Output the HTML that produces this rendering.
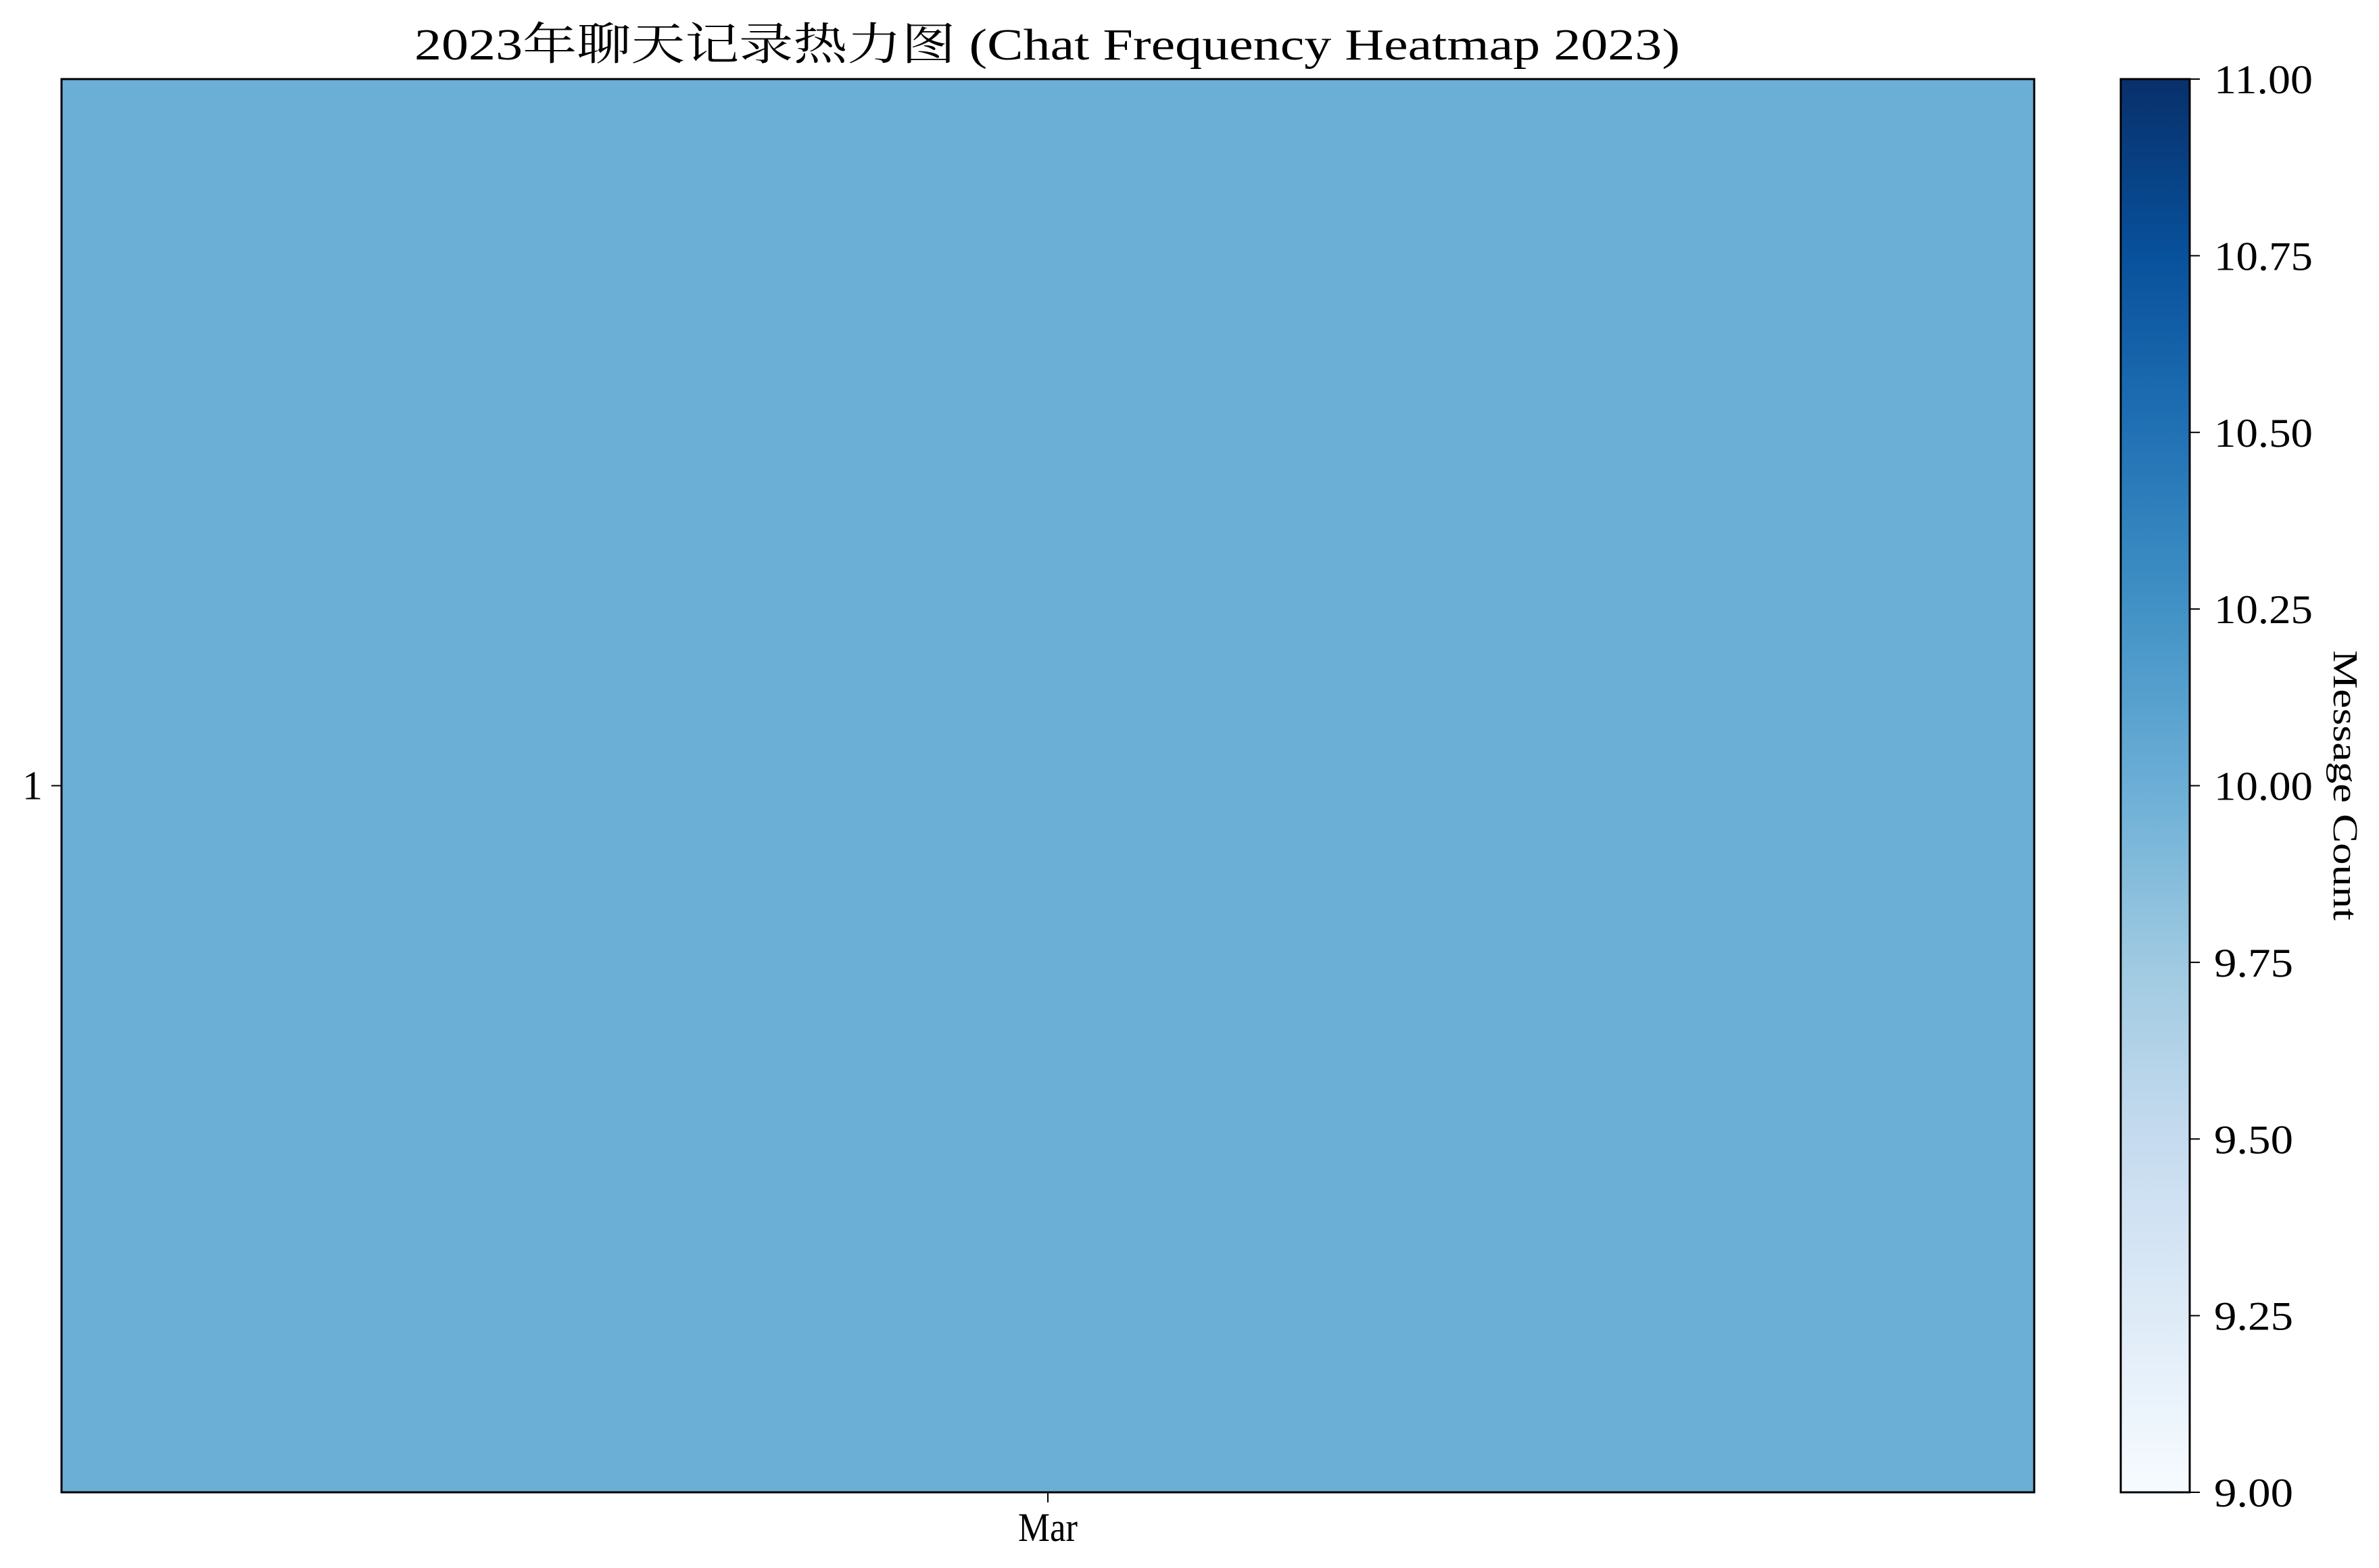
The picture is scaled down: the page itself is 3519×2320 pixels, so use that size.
<!DOCTYPE html>
<html><head><meta charset="utf-8">
<style>
html,body{margin:0;padding:0;background:#fff;}
svg{display:block;}
text{font-family:"Liberation Serif","Noto Serif CJK SC",serif;fill:#000;}
</style></head>
<body>
<svg id="chart" width="3519" height="2320" viewBox="0 0 3519 2320" xmlns="http://www.w3.org/2000/svg">
<defs>
<linearGradient id="blues" x1="0" y1="1" x2="0" y2="0">
<stop offset="0" stop-color="#f7fbff"/><stop offset="0.125" stop-color="#deebf7"/>
<stop offset="0.25" stop-color="#c6dbef"/><stop offset="0.375" stop-color="#9ecae1"/>
<stop offset="0.5" stop-color="#6baed6"/><stop offset="0.625" stop-color="#4292c6"/>
<stop offset="0.75" stop-color="#2171b5"/><stop offset="0.875" stop-color="#08519c"/>
<stop offset="1" stop-color="#08306b"/>
</linearGradient>
</defs>
<text x="1549" y="88" font-size="66" text-anchor="middle" textLength="1872" lengthAdjust="spacingAndGlyphs">2023年聊天记录热力图 (Chat Frequency Heatmap 2023)</text>
<g id="cells"></g>
<rect x="91" y="117" width="2918" height="2091" fill="none" stroke="#000" stroke-width="3"/>
<g id="xticks"></g><g id="yticks"></g>
<rect x="3137" y="117" width="102" height="2091" fill="url(#blues)" stroke="#000" stroke-width="3"/>
<g id="cbticks"></g>
<text transform="translate(3452,1162) rotate(90)" font-size="52" text-anchor="middle" textLength="400" lengthAdjust="spacingAndGlyphs">Message Count</text>
</svg>
<script>
const months = ["Mar"];
const days = ["1"];
const values = [[10]];
const vmin = 9, vmax = 11;
const cbTicks = [9.00, 9.25, 9.50, 9.75, 10.00, 10.25, 10.50, 10.75, 11.00];

const NS = "http://www.w3.org/2000/svg";
const L = 91, R = 3009, T = 117, B = 2208;
const CBT = 117, CBB = 2208, CBR = 3239;
const blues = ["#f7fbff","#deebf7","#c6dbef","#9ecae1","#6baed6","#4292c6","#2171b5","#08519c","#08306b"];
function hex(c){return [1,3,5].map(i=>parseInt(c.substr(i,2),16));}
function color(v){
  let t = Math.max(0, Math.min(1, (v - vmin) / (vmax - vmin))) * (blues.length - 1);
  let i = Math.min(Math.floor(t), blues.length - 2), f = t - i;
  const a = hex(blues[i]), b = hex(blues[i+1]);
  return "rgb(" + a.map((x,k)=>Math.round(x + (b[k]-x)*f)).join(",") + ")";
}
const cw = (R - L) / months.length, ch = (B - T) / days.length;
const xPos = i => L + i * cw;
const yPos = j => T + j * ch;
const cbY = v => CBB - (v - vmin) / (vmax - vmin) * (CBB - CBT);
function mk(tag, attrs, parent){
  const e = document.createElementNS(NS, tag);
  for (const k in attrs) e.setAttribute(k, attrs[k]);
  parent.appendChild(e); return e;
}
const cells = document.getElementById("cells");
days.forEach((d, j) => months.forEach((m, i) => {
  const r = mk("rect", {x: xPos(i), y: yPos(j), width: cw, height: ch, fill: color(values[j][i])}, cells);
  
  
}));
const xt = document.getElementById("xticks");
months.forEach((m, i) => {
  const cx = xPos(i) + cw / 2;
  const l = mk("line", {x1: cx, x2: cx, y1: B, y2: B + 15, stroke: "#000", "stroke-width": 2}, xt);
  
  
  const t = mk("text", {x: cx, y: 2280, "font-size": 60, "text-anchor": "middle", textLength: 88, lengthAdjust: "spacingAndGlyphs"}, xt);
  t.textContent = m;
  
  
});
const yt = document.getElementById("yticks");
days.forEach((d, j) => {
  const cy = yPos(j) + ch / 2;
  const l = mk("line", {x1: L - 15, x2: L, y1: cy, y2: cy, stroke: "#000", "stroke-width": 2}, yt);
  
  
  const t = mk("text", {x: L - 28, y: cy + 20, "font-size": 60, "text-anchor": "end"}, yt);
  t.textContent = d;
  
  
});
const cb = document.getElementById("cbticks");
cbTicks.forEach(v => {
  const y = cbY(v);
  const l = mk("line", {x1: CBR, x2: CBR + 15, y1: y, y2: y, stroke: "#000", "stroke-width": 2}, cb);
  
  
  const t = mk("text", {x: 3275, y: y + 21, "font-size": 60, textLength: v >= 10 ? 146 : 117, lengthAdjust: "spacingAndGlyphs"}, cb);
  t.textContent = v.toFixed(2);
  
  
});
</script>
</body></html>
